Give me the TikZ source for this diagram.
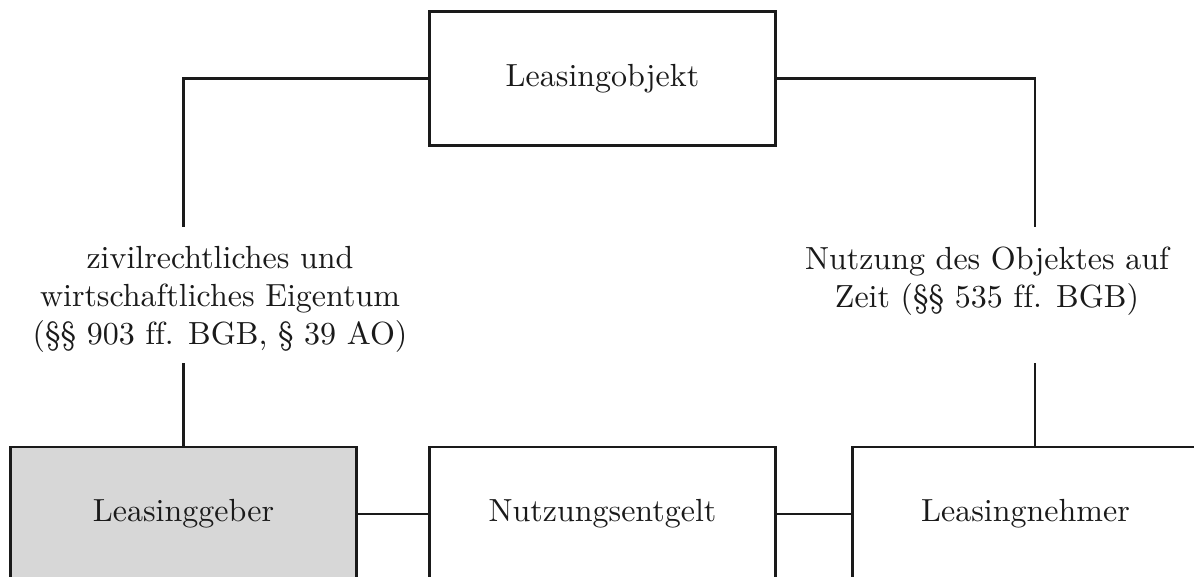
\documentclass[tikz,border=0pt]{standalone}
\usepackage{fontspec}
\setmainfont{lmroman10-regular.otf}[Ligatures=NoCommon]
\usetikzlibrary{calc}
\definecolor{boxgray}{HTML}{D7D7D7}
\definecolor{inkcol}{HTML}{1A1A1A}
\begin{document}
\begin{tikzpicture}[x=1pt,y=-1pt,
  every node/.style={font=\fontsize{32}{38}\selectfont, text=inkcol},
  partybox/.style={draw=inkcol, line width=2.4pt, rectangle, minimum width=346pt, minimum height=134pt, inner sep=0pt},
  link/.style={draw=inkcol, line width=2.2pt},
  relabel/.style={align=center, inner sep=0pt}]
  \useasboundingbox (0,0) rectangle (1194,576);
  \clip (0,0) rectangle (1194,576);

  % parties and object
  \node[partybox] (obj) at (602.5,78.5) {Leasingobjekt};
  \node[partybox, fill=boxgray] (geber) at (183.5,514) {Leasinggeber};
  \node[partybox] (entgelt) at (602.5,514) {Nutzungsentgelt};
  \node[partybox] (nehmer) at (1025.5,514) {Leasingnehmer};

  % relationship labels
  \node[relabel] (eigentum) at (220,299) {zivilrechtliches und\\wirtschaftliches Eigentum\\(§§ 903 ff. BGB, § 39 AO)};
  \node[relabel] (nutzung) at (987,281) {Nutzung des Objektes auf\\Zeit (§§ 535 ff. BGB)};

  % free ends of the vertical connectors around the labels
  \coordinate (lt) at (183.5,227);
  \coordinate (lb) at (183.5,363);
  \coordinate (rt) at (1035,227);
  \coordinate (rb) at (1035,363);

  % connectors
  \draw[link] (obj.west) -| (lt);
  \draw[link] (lb) -- (geber.north);
  \draw[link] (obj.east) -| (rt);
  \draw[link] (rb) -- (rb |- nehmer.north);
  \draw[link] (geber.east) -- (entgelt.west);
  \draw[link] (entgelt.east) -- (nehmer.west);
\end{tikzpicture}
\end{document}
